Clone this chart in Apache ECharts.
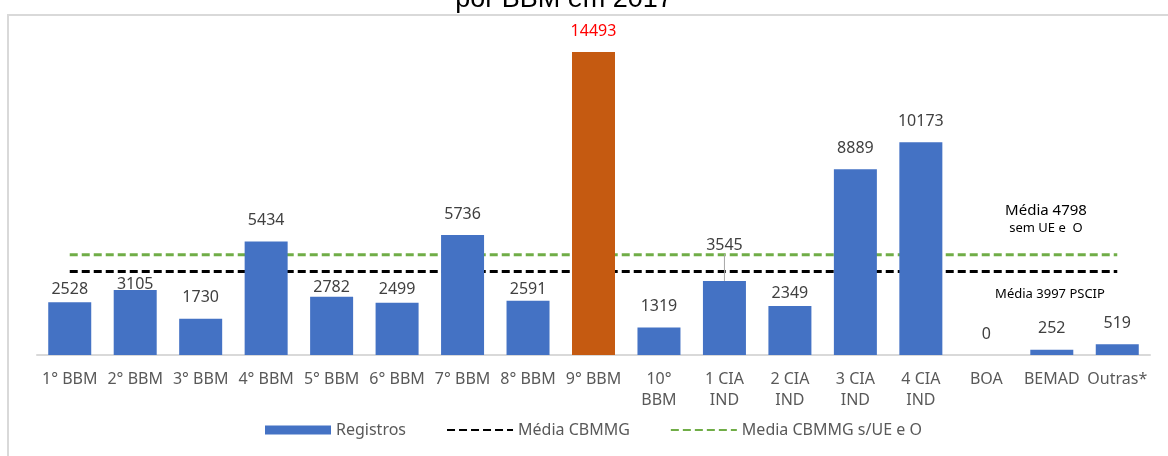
<!DOCTYPE html>
<html>
<head>
<meta charset="utf-8">
<script src="https://cdn.jsdelivr.net/npm/echarts@6/dist/echarts.min.js"></script>
<style>
  html, body { margin: 0; padding: 0; background: #fff; }
  #chart { width: 1168px; height: 456px; }
</style>
</head>
<body>
<div id="chart"></div>
<script>
const categories = ['1° BBM', '2° BBM', '3° BBM', '4° BBM', '5° BBM', '6° BBM', '7° BBM', '8° BBM', '9° BBM',
  '10°\nBBM', '1 CIA\nIND', '2 CIA\nIND', '3 CIA\nIND', '4 CIA\nIND', 'BOA', 'BEMAD', 'Outras*']
const registros = [2528, 3105, 1730, 5434, 2782, 2499, 5736, 2591, 14493, 1319, 3545, 2349, 8889, 10173, 0, 252, 519]
const mediaCBMMG = 3997
const mediaSemUE = 4798

const FONT = 'Noto Sans'

// labels the original nudged by hand (pixels, by bar index)
const labelNudge = { 0: 8, 1: 15, 4: 12, 5: 8, 7: 10, 11: 9, 10: -14 }

const barData = registros.map((v, i) => {
  if (i === 8) {
    return { value: v, itemStyle: { color: '#C55A11' }, label: { color: '#FF0000' } }
  }
  if (i === 10) {
    return { value: v, labelLine: { show: true, lineStyle: { color: '#a6a6a6', width: 1 } } }
  }
  return v
})

const chart = echarts.init(document.getElementById('chart'))

chart.setOption({
  backgroundColor: '#fff',
  animation: false,
  textStyle: { fontFamily: FONT },
  grid: { left: 37, right: 18, top: 52, bottom: 101 },
  xAxis: {
    type: 'category',
    data: categories,
    axisLine: { lineStyle: { color: '#d9d9d9', width: 2 } },
    axisTick: { show: false },
    axisLabel: { color: '#595959', fontSize: 16, margin: 14, lineHeight: 21, interval: 0 }
  },
  yAxis: {
    type: 'value',
    min: 0,
    max: 14493,
    show: false
  },
  legend: {
    top: 417,
    left: 260,
    itemGap: 40,
    itemWidth: 66,
    itemHeight: 9,
    textStyle: { color: '#595959', fontSize: 16, fontFamily: FONT },
    data: [
      { name: 'Registros', icon: 'rect' },
      { name: 'Média CBMMG', itemStyle: { opacity: 0 } },
      { name: 'Media CBMMG s/UE e O', itemStyle: { opacity: 0 } }
    ]
  },
  graphic: [
    {
      type: 'rect',
      silent: true,
      shape: { x: 8, y: 15, width: 1200, height: 500 },
      style: { fill: 'none', stroke: '#d9d9d9', lineWidth: 2 }
    },
    {
      type: 'text',
      x: 564,
      y: 13,
      style: {
        text: 'por BBM em 2017', font: '27px "Liberation Sans"', fill: '#000',
        align: 'center', verticalAlign: 'bottom'
      }
    },
    {
      type: 'text',
      x: 1046,
      y: 203,
      style: { text: 'Média 4798', font: '15px "Noto Sans"', fill: '#000', align: 'center' }
    },
    {
      type: 'text',
      x: 1046,
      y: 222,
      style: { text: 'sem UE e  O', font: '13px "Noto Sans"', fill: '#000', align: 'center' }
    },
    {
      type: 'text',
      x: 1050,
      y: 288,
      style: { text: 'Média 3997 PSCIP', font: '13px "Noto Sans"', fill: '#000', align: 'center' }
    }
  ],
  series: [
    {
      name: 'Registros',
      type: 'bar',
      z: 3,
      barWidth: 43,
      itemStyle: { color: '#4472C4' },
      label: {
        show: true,
        position: 'top',
        distance: 13,
        color: '#404040',
        fontSize: 16,
        fontFamily: FONT
      },
      labelLayout: (params) => (labelNudge[params.dataIndex] ? { dy: labelNudge[params.dataIndex] } : {}),
      data: barData
    },
    {
      name: 'Média CBMMG',
      type: 'line',
      z: 2,
      symbol: 'none',
      lineStyle: { color: '#000', width: 3, type: [8, 4] },
      itemStyle: { color: '#000' },
      data: categories.map(() => mediaCBMMG)
    },
    {
      name: 'Media CBMMG s/UE e O',
      type: 'line',
      z: 2,
      symbol: 'none',
      lineStyle: { color: '#70AD47', width: 3, type: [8, 4] },
      itemStyle: { color: '#70AD47' },
      data: categories.map(() => mediaSemUE)
    }
  ]
})
</script>
</body>
</html>
